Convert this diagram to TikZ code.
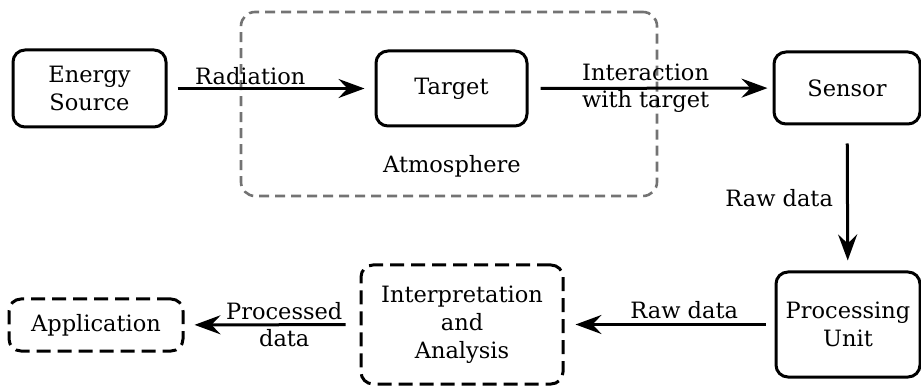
\documentclass[tikz,border=0pt]{standalone}
\usepackage{fontspec}
\setmainfont{DejaVu Serif}
\usetikzlibrary{arrows.meta}
\begin{document}
\begin{tikzpicture}[x=1pt,y=-1pt,
  box/.style={draw=black, line width=3pt, rounded corners=12pt, align=center, inner sep=0pt, font=\fontsize{22.5}{28}\selectfont},
  dbox/.style={box, dash pattern=on 14pt off 7pt},
  lbl/.style={font=\fontsize{22.5}{27}\selectfont, align=center, inner sep=1pt},
  arr/.style={draw=black, line width=3pt, -{Stealth[length=26pt,width=19pt,inset=9pt]}}
]
\useasboundingbox (0,0) rectangle (921,387);
% atmosphere
\node[draw=black!55, line width=2.6pt, dash pattern=on 10pt off 6pt, rounded corners=14pt, minimum width=416pt, minimum height=184pt, inner sep=0pt] (atm) at (449,104) {};
\node[lbl] (atml) at (452,166) {Atmosphere};
% boxes
\node[box, minimum width=153pt, minimum height=77pt] (es) at (89.5,88.5) {Energy\\Source};
\node[box, minimum width=151pt, minimum height=75pt] (tg) at (451.5,88.5) {Target};
\node[box, minimum width=146pt, minimum height=72pt] (sn) at (847,88) {Sensor};
\node[box, minimum width=144pt, minimum height=105pt] (pu) at (848,324.5) {Processing\\Unit};
\node[dbox, minimum width=202pt, minimum height=119pt] (ia) at (462,324.5) {Interpretation\\and\\Analysis};
\node[dbox, minimum width=174pt, minimum height=52pt] (ap) at (96,325) {Application};
% arrows
\draw[arr, shorten <=10pt, shorten >=10pt] (es) -- node[lbl, pos=0.4, above=1pt] {Radiation} (tg);
\draw[arr, shorten <=12pt, shorten >=5pt] (tg) -- node[lbl, pos=0.48] {Interaction\\with target} (sn);
\draw[arr, shorten <=18pt, shorten >=10pt] (sn) -- node[lbl, pos=0.5, left=12pt] {Raw data} (pu);
\draw[arr, shorten <=9pt, shorten >=11pt] (pu) -- node[lbl, pos=0.43, above=3pt] {Raw data} (ia);
\draw[arr, shorten <=14pt, shorten >=10pt] (ia) -- node[lbl, pos=0.43] {Processed\\data} (ap);
\end{tikzpicture}
\end{document}
